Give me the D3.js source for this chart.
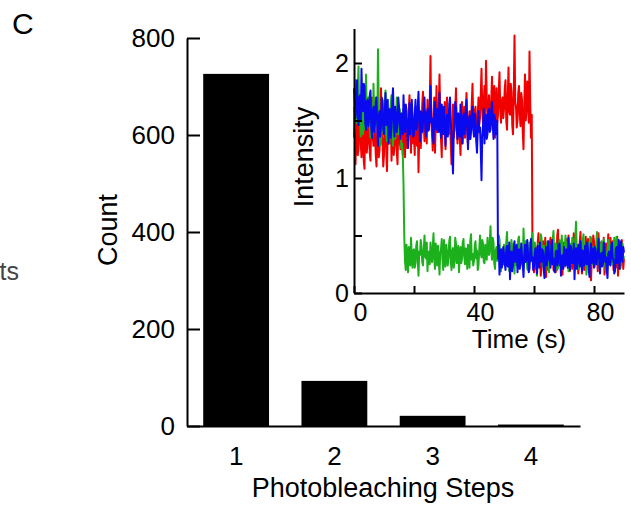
<!DOCTYPE html>
<html>
<head>
<meta charset="utf-8">
<script src="https://d3js.org/d3.v7.min.js"></script>
<style>
    body { margin: 0; background: #fff; }
    svg text { font-family: "Liberation Sans", Arial, sans-serif; fill: #000; }
</style>
</head>
<body>
<script>
    // histogram of photobleaching steps
    const stepLabels = ["1", "2", "3", "4"];
    const stepCounts = [726, 93, 21, 3];
    const countTicks = [0, 200, 400, 600, 800];

    // inset: intensity traces, one sample every frameInterval seconds (20 per row = 5 s)
    const frameInterval = 0.25;
    const redTrace = [
        1.35, 1.58, 1.12, 1.40, 1.48, 1.20, 1.25, 1.52, 1.62, 1.30, 1.18, 1.45, 1.40, 1.15, 1.08, 1.60, 1.55, 1.22, 1.30, 1.46,
        1.45, 1.22, 1.15, 1.50, 1.70, 1.36, 1.28, 1.62, 1.38, 1.20, 1.10, 1.42, 1.52, 1.18, 1.24, 1.55, 1.78, 1.40, 1.32, 1.10,
        1.20, 1.55, 1.46, 1.25, 1.06, 1.40, 1.58, 1.30, 1.34, 1.62, 1.15, 1.38, 1.66, 1.20, 1.28, 1.52, 1.42, 1.24, 1.12, 1.44,
        1.50, 1.32, 1.25, 1.56, 1.38, 1.20, 1.60, 1.35, 1.18, 1.52, 1.44, 1.26, 1.30, 1.58, 1.72, 1.40, 1.22, 1.54, 1.48, 1.30,
        1.36, 1.20, 1.62, 1.45, 1.28, 1.50, 1.05, 1.38, 1.55, 1.26, 1.40, 1.64, 1.75, 1.48, 1.32, 1.58, 1.50, 1.30, 1.68, 1.44,
        1.42, 1.66, 2.06, 1.50, 1.38, 1.24, 1.56, 1.70, 1.22, 1.48, 1.80, 1.40, 1.45, 1.62, 1.90, 1.52, 1.34, 1.18, 1.62, 1.40,
        1.48, 1.66, 1.25, 1.52, 1.70, 1.40, 1.38, 1.60, 1.55, 1.30, 1.12, 1.46, 1.64, 1.35, 1.42, 1.58, 1.78, 1.44, 1.30, 1.56,
        1.52, 1.36, 1.20, 1.48, 1.66, 1.30, 1.44, 1.62, 1.35, 1.55, 1.74, 1.40, 1.28, 1.50, 1.58, 1.34, 1.46, 1.65, 1.82, 1.50,
        1.40, 1.58, 1.62, 1.38, 1.30, 1.55, 1.70, 1.46, 1.52, 1.72, 1.95, 1.60, 1.48, 1.66, 1.80, 1.54, 2.02, 1.70, 1.58, 1.42,
        1.72, 1.50, 1.45, 1.68, 1.88, 1.56, 1.62, 1.80, 1.35, 1.60, 1.78, 1.48, 1.55, 1.76, 1.92, 1.60, 1.48, 1.66, 1.70, 1.52,
        1.60, 1.78, 1.85, 1.50, 1.42, 1.70, 1.96, 1.58, 1.55, 1.82, 1.75, 1.46, 1.38, 1.72, 2.24, 1.66, 1.62, 1.44, 1.50, 1.74,
        1.80, 1.56, 1.45, 1.74, 1.68, 1.40, 1.25, 1.62, 1.90, 1.50, 1.58, 1.84, 1.72, 1.48, 2.10, 1.64, 1.35, 1.55, 0.32, 0.24,
        0.18, 0.36, 0.40, 0.21, 0.26, 0.44, 0.52, 0.30, 0.35, 0.15, 0.22, 0.40, 0.45, 0.27, 0.30, 0.48, 0.14, 0.33, 0.38, 0.20,
        0.27, 0.43, 0.48, 0.25, 0.33, 0.46, 0.20, 0.38, 0.42, 0.18, 0.29, 0.50, 0.55, 0.31, 0.24, 0.41, 0.37, 0.22, 0.16, 0.39,
        0.44, 0.23, 0.31, 0.47, 0.26, 0.35, 0.50, 0.28, 0.19, 0.42, 0.39, 0.21, 0.34, 0.52, 0.46, 0.25, 0.22, 0.40, 0.36, 0.17,
        0.28, 0.45, 0.53, 0.32, 0.17, 0.36, 0.41, 0.20, 0.32, 0.49, 0.24, 0.38, 0.47, 0.26, 0.30, 0.43, 0.11, 0.29, 0.38, 0.50,
        0.45, 0.30, 0.26, 0.41, 0.35, 0.19, 0.52, 0.37, 0.21, 0.44, 0.40, 0.25, 0.29, 0.48, 0.16, 0.34, 0.43, 0.23, 0.33, 0.51,
        0.25, 0.40, 0.48, 0.27, 0.31, 0.45, 0.20, 0.35, 0.42, 0.22, 0.36, 0.49, 0.15, 0.32, 0.44, 0.26, 0.28, 0.46, 0.39, 0.21,
        0.30
    ];
    const greenTrace = [
        1.62, 1.40, 1.85, 1.56, 1.48, 1.75, 1.97, 1.50, 1.55, 1.36, 1.72, 1.48, 1.38, 1.60, 1.66, 1.42, 1.90, 1.58, 1.45, 1.70,
        1.70, 1.46, 1.35, 1.62, 1.58, 1.38, 1.82, 1.55, 1.42, 1.70, 1.64, 1.45, 2.12, 1.60, 1.50, 1.28, 1.30, 1.52, 1.68, 1.40,
        1.45, 1.62, 1.76, 1.40, 1.32, 1.55, 1.60, 1.30, 1.40, 1.64, 1.72, 1.42, 1.28, 1.50, 1.55, 1.34, 1.46, 1.70, 1.65, 1.38,
        1.38, 1.60, 1.52, 1.26, 1.30, 1.22, 0.95, 0.50, 0.28, 0.20, 0.42, 0.30, 0.18, 0.40, 0.35, 0.24, 0.48, 0.33, 0.22, 0.37,
        0.38, 0.22, 0.26, 0.41, 0.45, 0.28, 0.15, 0.36, 0.33, 0.46, 0.40, 0.27, 0.24, 0.38, 0.50, 0.32, 0.30, 0.44, 0.19, 0.35,
        0.36, 0.25, 0.44, 0.31, 0.27, 0.40, 0.52, 0.29, 0.21, 0.43, 0.34, 0.24, 0.41, 0.30, 0.16, 0.35, 0.38, 0.47, 0.29, 0.20,
        0.46, 0.30, 0.23, 0.42, 0.35, 0.24, 0.31, 0.45, 0.49, 0.28, 0.20, 0.37, 0.39, 0.22, 0.27, 0.48, 0.43, 0.26, 0.33, 0.41,
        0.18, 0.33, 0.40, 0.26, 0.30, 0.44, 0.47, 0.32, 0.25, 0.39, 0.36, 0.21, 0.42, 0.35, 0.22, 0.45, 0.51, 0.29, 0.34, 0.24,
        0.28, 0.41, 0.45, 0.30, 0.37, 0.20, 0.24, 0.38, 0.50, 0.35, 0.31, 0.46, 0.43, 0.27, 0.26, 0.42, 0.39, 0.29, 0.48, 0.36,
        0.33, 0.45, 0.58, 0.36, 0.29, 0.48, 0.44, 0.26, 0.21, 0.37, 0.40, 0.28, 0.35, 0.50, 0.47, 0.31, 0.19, 0.34, 0.38, 0.25,
        0.42, 0.32, 0.27, 0.44, 0.53, 0.35, 0.31, 0.19, 0.22, 0.39, 0.46, 0.29, 0.36, 0.43, 0.17, 0.33, 0.41, 0.24, 0.30, 0.47,
        0.49, 0.34, 0.25, 0.40, 0.37, 0.23, 0.56, 0.38, 0.28, 0.45, 0.34, 0.21, 0.20, 0.36, 0.44, 0.27, 0.32, 0.48, 0.52, 0.30,
        0.26, 0.44, 0.39, 0.22, 0.15, 0.33, 0.43, 0.28, 0.35, 0.51, 0.48, 0.30, 0.23, 0.41, 0.37, 0.19, 0.29, 0.42, 0.45, 0.27,
        0.18, 0.36, 0.41, 0.25, 0.33, 0.47, 0.54, 0.32, 0.27, 0.43, 0.38, 0.20, 0.22, 0.39, 0.46, 0.29, 0.31, 0.50, 0.40, 0.23,
        0.24, 0.38, 0.50, 0.29, 0.36, 0.44, 0.19, 0.34, 0.43, 0.25, 0.30, 0.48, 0.47, 0.32, 0.26, 0.45, 0.62, 0.37, 0.34, 0.22,
        0.21, 0.35, 0.42, 0.27, 0.29, 0.46, 0.51, 0.33, 0.37, 0.24, 0.16, 0.38, 0.44, 0.26, 0.32, 0.49, 0.48, 0.30, 0.25, 0.40,
        0.39, 0.23, 0.28, 0.44, 0.53, 0.36, 0.34, 0.26, 0.20, 0.40, 0.45, 0.29, 0.31, 0.47, 0.41, 0.24, 0.18, 0.35, 0.37, 0.46,
        0.46, 0.31, 0.27, 0.42, 0.40, 0.25, 0.33, 0.48, 0.22, 0.36, 0.49, 0.28, 0.30, 0.45, 0.38, 0.21, 0.24, 0.39, 0.43, 0.29,
        0.32
    ];
    const blueTrace = [
        1.78, 1.60, 1.52, 1.74, 1.85, 1.55, 1.46, 1.70, 1.72, 1.50, 1.95, 1.64, 1.58, 1.82, 1.80, 1.48, 1.42, 1.66, 1.68, 1.45,
        1.50, 1.72, 1.76, 1.44, 1.35, 1.58, 1.62, 1.40, 1.48, 1.66, 1.70, 1.46, 1.28, 1.54, 1.58, 1.36, 1.45, 1.70, 1.66, 1.42,
        1.38, 1.56, 1.74, 1.46, 1.52, 1.68, 1.30, 1.50, 1.60, 1.35, 1.44, 1.66, 1.78, 1.50, 1.36, 1.62, 1.55, 1.40, 1.48, 1.70,
        1.62, 1.45, 1.34, 1.56, 1.50, 1.38, 1.72, 1.52, 1.40, 1.64, 1.58, 1.42, 1.26, 1.48, 1.65, 1.38, 1.46, 1.68, 1.55, 1.36,
        1.38, 1.55, 1.68, 1.42, 1.45, 1.62, 1.75, 1.50, 1.32, 1.58, 1.56, 1.40, 1.48, 1.66, 1.70, 1.44, 1.36, 1.54, 1.60, 1.41,
        1.44, 1.62, 1.80, 1.48, 1.52, 1.36, 1.30, 1.56, 1.66, 1.45, 1.42, 1.60, 1.58, 1.40, 1.74, 1.52, 1.35, 1.64, 1.50, 1.38,
        1.62, 1.44, 1.28, 1.50, 1.55, 1.36, 1.45, 1.64, 1.70, 1.48, 1.38, 1.22, 1.04, 1.40, 1.52, 1.66, 1.60, 1.42, 1.34, 1.56,
        1.48, 1.36, 1.64, 1.46, 1.30, 1.52, 1.56, 1.38, 1.42, 1.60, 1.68, 1.44, 1.25, 1.48, 1.54, 1.34, 1.40, 1.58, 1.62, 1.42,
        1.36, 1.56, 1.50, 1.32, 1.22, 1.44, 1.58, 1.40, 1.44, 1.25, 0.98, 1.36, 1.46, 1.60, 1.30, 1.48, 1.55, 1.34, 1.38, 1.58,
        1.60, 1.40, 1.42, 1.58, 1.66, 1.46, 1.34, 1.55, 1.52, 1.38, 1.45, 1.50, 0.30, 0.42, 0.16, 0.33, 0.38, 0.22, 0.25, 0.40,
        0.34, 0.26, 0.20, 0.37, 0.41, 0.23, 0.28, 0.44, 0.12, 0.30, 0.36, 0.19, 0.24, 0.39, 0.45, 0.27, 0.30, 0.42, 0.18, 0.33,
        0.38, 0.21, 0.26, 0.43, 0.33, 0.25, 0.14, 0.32, 0.42, 0.27, 0.29, 0.46, 0.35, 0.18, 0.21, 0.38, 0.47, 0.28, 0.31, 0.20,
        0.23, 0.35, 0.39, 0.26, 0.17, 0.41, 0.34, 0.22, 0.44, 0.30, 0.27, 0.38, 0.36, 0.20, 0.13, 0.33, 0.40, 0.24, 0.29, 0.45,
        0.35, 0.28, 0.22, 0.40, 0.46, 0.25, 0.30, 0.19, 0.18, 0.36, 0.37, 0.24, 0.26, 0.41, 0.43, 0.29, 0.15, 0.32, 0.33, 0.21,
        0.40, 0.29, 0.24, 0.38, 0.31, 0.22, 0.48, 0.33, 0.20, 0.41, 0.36, 0.26, 0.28, 0.43, 0.12, 0.30, 0.39, 0.21, 0.27, 0.42,
        0.34, 0.23, 0.45, 0.31, 0.19, 0.37, 0.32, 0.24, 0.41, 0.28, 0.25, 0.44, 0.37, 0.20, 0.14, 0.35, 0.43, 0.26, 0.30, 0.39,
        0.22, 0.40, 0.38, 0.25, 0.29, 0.36, 0.47, 0.28, 0.17, 0.33, 0.35, 0.23, 0.26, 0.44, 0.42, 0.27, 0.31, 0.20, 0.13, 0.34,
        0.36, 0.25, 0.24, 0.41, 0.44, 0.30, 0.28, 0.17, 0.19, 0.38, 0.40, 0.26, 0.33, 0.46, 0.21, 0.32, 0.45, 0.29, 0.27, 0.40,
        0.35
    ];
    const intensityTicks = [0, 0.5, 1, 1.5, 2];
    const intensityLabels = [0, 1, 2];
    const timeTicks = [0, 20, 40, 60, 80];
    const timeLabels = [0, 40, 80];

    let svg_w = 631;
    let svg_h = 514;

    let svg = d3.select("body").append("svg")
        .attr("width", svg_w)
        .attr("height", svg_h);

    // panel letter and the clipped label of the neighbouring panel
    svg.append("text").text("C")
        .attr("x", 12).attr("y", 34)
        .style("font-size", "30px");
    svg.append("text").text("ts")
        .attr("x", 19).attr("y", 280)
        .attr("text-anchor", "end")
        .style("font-size", "25px")
        .style("fill", "#444");

    // ---- main histogram ----
    let x_scale = d3.scaleBand()
        .domain(stepLabels)
        .range([187, 580])
        .paddingInner(0.33)
        .paddingOuter(0.165);

    let y_scale = d3.scaleLinear()
        .domain([0, 800])
        .range([426, 38]);

    svg.append("g")
        .selectAll("rect")
        .data(stepCounts)
        .join("rect")
        .attr("x", (d, i) => x_scale(stepLabels[i]))
        .attr("y", d => y_scale(d))
        .attr("width", x_scale.bandwidth())
        .attr("height", d => y_scale(0) - y_scale(d))
        .attr("fill", "#000");

    let y_axis = d3.axisLeft(y_scale)
        .tickValues(countTicks)
        .tickSizeInner(-13)
        .tickSizeOuter(0)
        .tickPadding(12);

    let x_axis = d3.axisBottom(x_scale)
        .tickSize(0)
        .tickPadding(21);

    svg.append("g")
        .attr("transform", "translate(187,0)")
        .call(y_axis)
        .call(g => g.selectAll("path, line").attr("stroke", "#000").attr("stroke-width", 2))
        .call(g => g.selectAll("text").style("font-size", "26px").attr("fill", "#000"));

    svg.append("g")
        .attr("transform", "translate(0,426)")
        .call(x_axis)
        .call(g => g.selectAll("path, line").attr("stroke", "#000").attr("stroke-width", 2))
        .call(g => g.selectAll("text").style("font-size", "26px").attr("fill", "#000"));

    svg.append("text").text("Count")
        .attr("text-anchor", "middle")
        .attr("transform", "translate(117,230)rotate(-90)")
        .style("font-size", "27px");

    svg.append("text").text("Photobleaching Steps")
        .attr("text-anchor", "middle")
        .attr("x", 383).attr("y", 497)
        .style("font-size", "27px");

    // ---- inset: single-molecule traces ----
    let t_scale = d3.scaleLinear()
        .domain([0, 90])
        .range([354, 624]);

    let i_scale = d3.scaleLinear()
        .domain([0, 2.3])
        .range([293, 28.5]);

    let trace_line = d3.line()
        .x((d, i) => t_scale(i * frameInterval))
        .y(d => i_scale(d));

    const traces = [
        { values: redTrace, color: "#f20000" },
        { values: greenTrace, color: "#1db01d" },
        { values: blueTrace, color: "#0a0af0" }
    ];

    for (const tr of traces) {
        svg.append("path")
            .datum(tr.values)
            .attr("fill", "none")
            .attr("stroke", tr.color)
            .attr("stroke-width", 2)
            .attr("stroke-linejoin", "round")
            .attr("d", trace_line);
    }

    let t_axis = d3.axisBottom(t_scale)
        .tickValues(timeTicks)
        .tickSizeInner(-7)
        .tickSizeOuter(0)
        .tickPadding(10)
        .tickFormat(d => timeLabels.includes(d) ? d : "");

    let i_axis = d3.axisLeft(i_scale)
        .tickValues(intensityTicks)
        .tickSizeInner(-8)
        .tickSizeOuter(0)
        .tickPadding(5)
        .tickFormat(d => intensityLabels.includes(d) ? d : "");

    svg.append("g")
        .attr("transform", "translate(0,293)")
        .call(t_axis)
        .call(g => g.selectAll("path, line").attr("stroke", "#000").attr("stroke-width", 2))
        .call(g => g.selectAll("text").style("font-size", "25px").attr("fill", "#000").attr("dx", 6));

    svg.append("g")
        .attr("transform", "translate(354,0)")
        .call(i_axis)
        .call(g => g.selectAll("path, line").attr("stroke", "#000").attr("stroke-width", 2))
        .call(g => g.selectAll("text").style("font-size", "25px").attr("fill", "#000"));

    svg.append("text").text("Intensity")
        .attr("text-anchor", "middle")
        .attr("transform", "translate(313,157)rotate(-90)")
        .style("font-size", "27px");

    svg.append("text").text("Time (s)")
        .attr("text-anchor", "middle")
        .attr("x", 519).attr("y", 348)
        .style("font-size", "26px");
</script>
</body>
</html>
